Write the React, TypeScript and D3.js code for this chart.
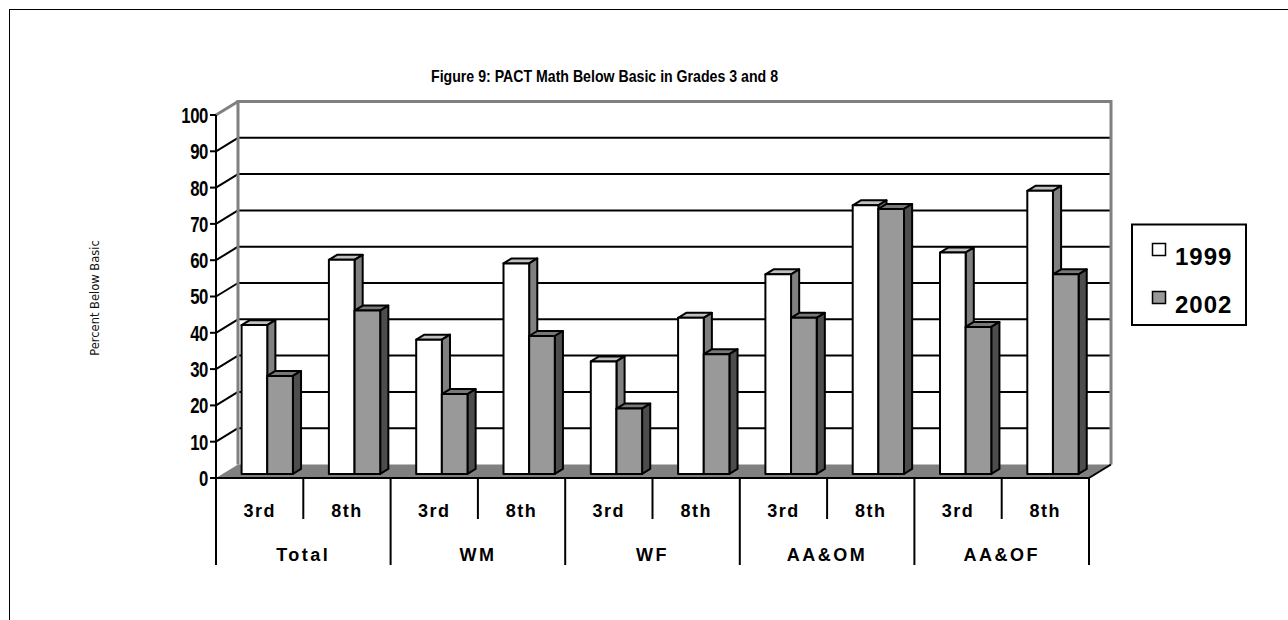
import * as d3 from 'd3'

const groups = ['Total', 'WM', 'WF', 'AA&OM', 'AA&OF']
const grades = ['3rd', '8th']
const seriesNames = ['1999', '2002']
const values1999 = [41, 59, 37, 58, 31, 43, 55, 74, 61, 78]
const values2002 = [27, 45, 22, 38, 18, 33, 43, 73, 40.5, 55]
const yTicks = [0, 10, 20, 30, 40, 50, 60, 70, 80, 90, 100]

const W = 1288
const H = 620
const left = 216
const right = 1089
const bottom = 478
const top = 115
// depth of the 3d box and of the bars inside it
const DX = 22
const DY = -13.5
const Z0 = 0.3
const Z1 = 0.67

const faces: Record<string, { front: string; side: string; top: string }> = {
  '1999': { front: '#ffffff', side: '#808080', top: '#c0c0c0' },
  '2002': { front: '#999999', side: '#4d4d4d', top: '#787878' },
}

const slots = groups.flatMap((g) => grades.map((gr) => `${g}|${gr}`))
const valuesBy: Record<string, number[]> = { '1999': values1999, '2002': values2002 }

export default function App() {
  const x = d3.scaleBand().domain(slots).range([left, right])
  const inner = d3.scaleBand().domain(seriesNames).range([19, x.bandwidth() - 17])
  const y = d3.scaleLinear().domain([0, 100]).range([bottom, top])
  const bw = inner.bandwidth()
  const ddx = (Z1 - Z0) * DX
  const ddy = (Z1 - Z0) * DY
  const pts = (p: number[][]) => p.map((q) => q.join(',')).join(' ')
  const sans = "'Liberation Sans', Arial, sans-serif"

  const bars = slots.flatMap((slot, i) =>
    seriesNames.map((s) => {
      const v = valuesBy[s][i]
      const x0 = (x(slot) as number) + (inner(s) as number) + Z0 * DX
      const yb = y(0) + Z0 * DY
      const yt = y(v) + Z0 * DY
      const f = faces[s]
      return (
        <g key={slot + s} stroke="#000" strokeWidth={2} strokeLinejoin="round">
          <polygon points={pts([[x0, yt], [x0 + bw, yt], [x0 + bw + ddx, yt + ddy], [x0 + ddx, yt + ddy]])} fill={f.top} />
          <polygon points={pts([[x0 + bw, yt], [x0 + bw + ddx, yt + ddy], [x0 + bw + ddx, yb + ddy], [x0 + bw, yb]])} fill={f.side} />
          <rect x={x0} y={yt} width={bw} height={yb - yt} fill={f.front} />
        </g>
      )
    })
  )

  const bandW = x.bandwidth()

  return (
    <svg width={W} height={H} style={{ position: 'absolute', left: 0, top: 0, background: '#fff' }}>
      <rect x={9.5} y={9.5} width={1400} height={800} fill="none" stroke="#000" strokeWidth={1} />

      <text
        x={604.5}
        y={82}
        textAnchor="middle"
        fontFamily={sans}
        fontWeight="bold"
        fontSize={16.5}
        textLength={347}
        lengthAdjust="spacingAndGlyphs"
      >
        Figure 9: PACT Math Below Basic in Grades 3 and 8
      </text>

      {/* back wall gridlines */}
      {yTicks.slice(1, -1).map((t) => (
        <g key={t} stroke="#000" strokeWidth={2}>
          <line x1={left + DX} x2={right + DX} y1={y(t) + DY} y2={y(t) + DY} />
          <line x1={left} x2={left + DX} y1={y(t)} y2={y(t) + DY} />
        </g>
      ))}

      {/* floor */}
      <polygon
        points={pts([[left, bottom], [right, bottom], [right + DX, bottom + DY], [left + DX, bottom + DY]])}
        fill="#808080"
      />

      {/* walls outline */}
      <polyline
        points={pts([[left + DX, bottom + DY], [left + DX, y(100) + DY], [right + DX, y(100) + DY], [right + DX, bottom + DY]])}
        fill="none"
        stroke="#808080"
        strokeWidth={3}
      />
      <line x1={left} y1={y(100)} x2={left + DX} y2={y(100) + DY} stroke="#808080" strokeWidth={3} />

      {bars}

      {/* axes */}
      <g stroke="#000" strokeWidth={2}>
        <line x1={left} x2={left} y1={y(100)} y2={565} />
        <line x1={left} x2={right} y1={bottom} y2={bottom} />
        <line x1={right} x2={right + DX} y1={bottom} y2={bottom + DY} />
        {yTicks.map((t) => (
          <line key={t} x1={left - 6} x2={left} y1={y(t)} y2={y(t)} />
        ))}
        {slots.map((slot, i) =>
          i === 0 ? null : (
            <line key={slot} x1={x(slot)} x2={x(slot)} y1={bottom} y2={i % 2 === 0 ? 565 : 519} />
          )
        )}
        <line x1={right} x2={right} y1={bottom} y2={565} />
      </g>

      {yTicks.map((t) => (
        <text
          key={t}
          transform={`translate(208,${y(t)}) scale(0.76,1)`}
          dy="0.36em"
          textAnchor="end"
          fontFamily={sans}
          fontWeight="bold"
          fontSize={22}
          letterSpacing={-0.5}
        >
          {t}
        </text>
      ))}

      <text
        transform="translate(99,298) rotate(-90)"
        textAnchor="middle"
        fontFamily="'DejaVu Sans', Tahoma, sans-serif"
        fontSize={11.5}
        fill="#111"
      >
        Percent Below Basic
      </text>

      {slots.map((slot) => (
        <text
          key={slot}
          x={(x(slot) as number) + bandW / 2}
          y={517}
          textAnchor="middle"
          fontFamily={sans}
          fontWeight="bold"
          fontSize={18}
          letterSpacing={1.5}
        >
          {slot.split('|')[1]}
        </text>
      ))}
      {groups.map((g) => (
        <text
          key={g}
          x={(x(`${g}|3rd`) as number) + bandW}
          y={561}
          textAnchor="middle"
          fontFamily={sans}
          fontWeight="bold"
          fontSize={18}
          letterSpacing={2.5}
        >
          {g}
        </text>
      ))}

      {/* legend */}
      <rect x={1132} y={224.5} width={114} height={100.5} fill="#fff" stroke="#000" strokeWidth={2} />
      {seriesNames.map((s, i) => (
        <g key={s}>
          <rect x={1152.5} y={243.5 + i * 48} width={13} height={12} fill={faces[s].front} stroke="#000" strokeWidth={1.5} />
          <text x={1175} y={265 + i * 48} fontFamily={sans} fontWeight="bold" fontSize={24} letterSpacing={1}>
            {s}
          </text>
        </g>
      ))}
    </svg>
  )
}
